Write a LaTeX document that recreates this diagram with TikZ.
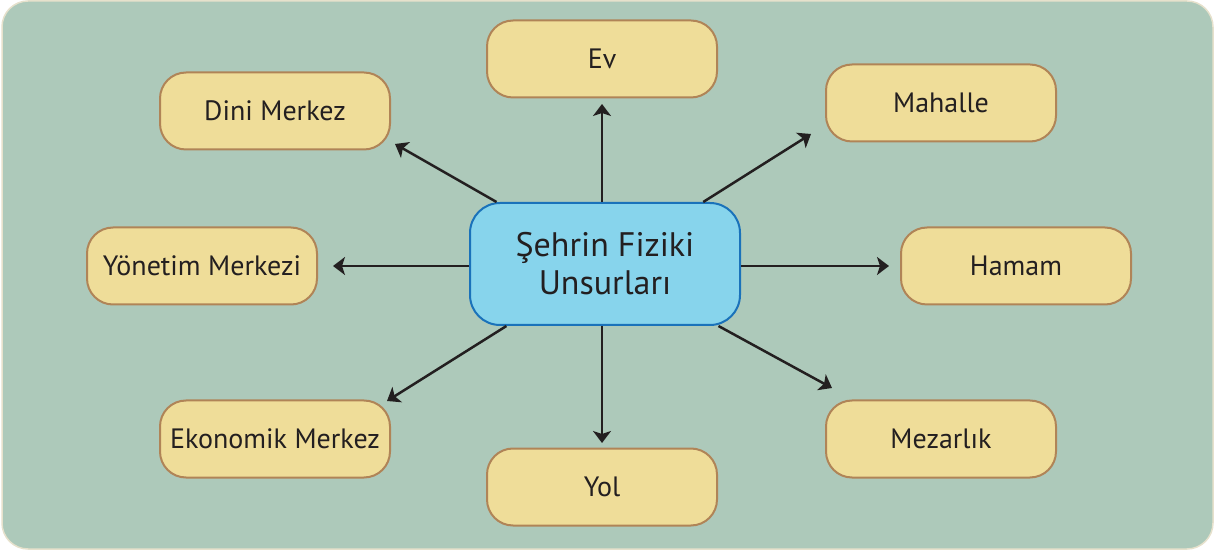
\documentclass[tikz,border=0pt]{standalone}
\usepackage{fontspec}
\setmainfont{PT Sans}
\usetikzlibrary{arrows.meta}

\definecolor{bggreen}{HTML}{ADC9BA}
\definecolor{bgedge}{HTML}{E6E1CC}
\definecolor{boxfill}{HTML}{EFDD99}
\definecolor{boxedge}{HTML}{B08457}
\definecolor{hubfill}{HTML}{87D4EC}
\definecolor{hubedge}{HTML}{1A72BA}
\definecolor{arrowcol}{HTML}{231F20}

\begin{document}
\begin{tikzpicture}[x=0.5pt,y=-0.5pt,>={Stealth[length=6pt,width=9pt,inset=1.5pt]},
  part node/.style={rectangle,rounded corners=13pt,fill=boxfill,draw=boxedge,line width=1pt,
    minimum width=115pt,minimum height=38.5pt,text=arrowcol,font=\fontsize{14}{16}\selectfont},
  hub node/.style={rectangle,rounded corners=15pt,fill=hubfill,draw=hubedge,line width=1pt,
    minimum width=135pt,minimum height=61pt,align=center,text=arrowcol,font=\fontsize{17}{19}\selectfont}]

  \useasboundingbox (0,0) rectangle (1215,550);
  \draw[fill=bggreen,draw=bgedge,line width=0.75pt,rounded corners=13pt] (2,1) rectangle (1213,549);

  \node[hub node] (hub) at (605,264) {Şehrin Fiziki\\Unsurları};
  \node[part node] (ev) at (602,59) {Ev};
  \node[part node] (dini) at (275,111) {Dini Merkez};
  \node[part node] (mahalle) at (941,103) {Mahalle};
  \node[part node] (yonetim) at (202,266) {Yönetim Merkezi};
  \node[part node] (hamam) at (1016,266) {Hamam};
  \node[part node] (ekonomik) at (275,439) {Ekonomik Merkez};
  \node[part node] (mezarlik) at (941,439) {Mezarlık};
  \node[part node] (yol) at (602,487) {Yol};

  % arrow tips stop short of the boxes
  \coordinate (to ev) at (602,104);
  \coordinate (to dini) at (395,144);
  \coordinate (to mahalle) at (811,134);
  \coordinate (to yonetim) at (333,266);
  \coordinate (to hamam) at (889,266);
  \coordinate (to ekonomik) at (387,401);
  \coordinate (to mezarlik) at (832,388);
  \coordinate (to yol) at (602,443);

  \path[every edge/.style={draw=arrowcol,line width=1.25pt,->}]
    (hub.north -| to ev) edge (to ev)
    (hub) edge (to dini)
    (hub) edge (to mahalle)
    (hub.west |- to yonetim) edge (to yonetim)
    (hub.east |- to hamam) edge (to hamam)
    (hub) edge (to ekonomik)
    (hub) edge (to mezarlik)
    (hub.south -| to yol) edge (to yol)
    ;
\end{tikzpicture}
\end{document}
